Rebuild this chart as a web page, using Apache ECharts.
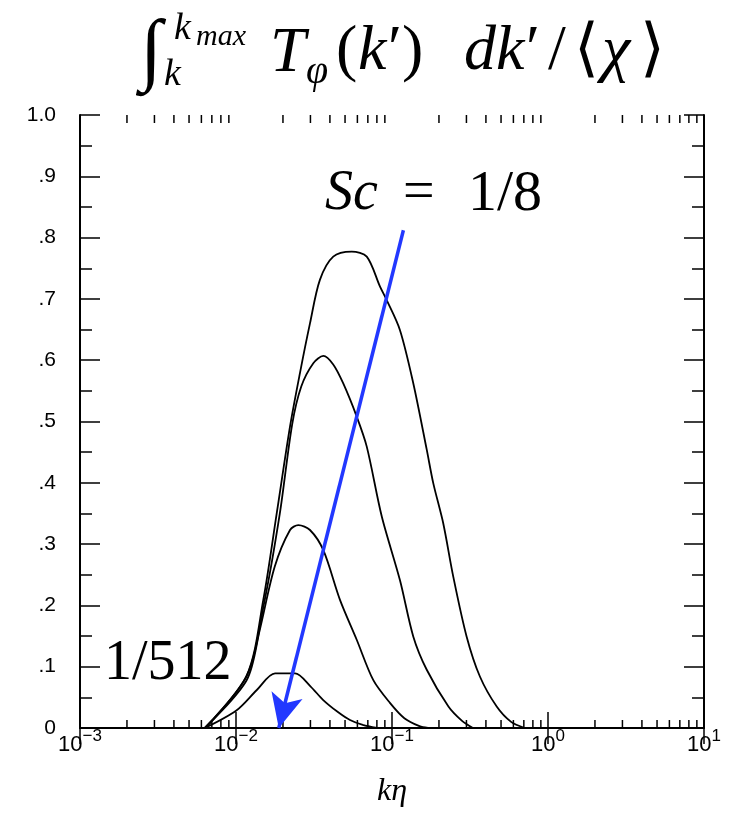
<!DOCTYPE html>
<html>
<head>
<meta charset="utf-8">
<script src="https://cdn.jsdelivr.net/npm/echarts@6/dist/echarts.min.js"></script>
<style>
  html, body { margin: 0; padding: 0; background: #fff; }
  #chart { width: 729px; height: 818px; }
</style>
</head>
<body>
<div id="chart"></div>
<script>
// curves, [k eta, integral / <chi>]
const sc8 = [[0.00632, 0], [0.01172, 0.086], [0.01496, 0.209], [0.01824, 0.35], [0.0222, 0.492],
  [0.0257, 0.579], [0.0298, 0.66], [0.0345, 0.731], [0.042, 0.769], [0.0552, 0.777], [0.0689, 0.769],
  [0.0838, 0.72], [0.0925, 0.698], [0.1125, 0.649], [0.137, 0.562], [0.167, 0.454], [0.184, 0.399],
  [0.213, 0.334], [0.247, 0.247], [0.301, 0.149], [0.366, 0.084], [0.469, 0.035], [0.58, 0.01], [0.71, 0]];
const sc32 = [[0.00632, 0], [0.01172, 0.085], [0.0152, 0.206], [0.0191, 0.35], [0.0229, 0.495],
  [0.0262, 0.557], [0.0313, 0.595], [0.0363, 0.607], [0.042, 0.593], [0.0487, 0.562], [0.0594, 0.508],
  [0.0689, 0.459], [0.086, 0.345], [0.1125, 0.241], [0.137, 0.149], [0.167, 0.095], [0.23, 0.035],
  [0.28, 0.012], [0.33, 0]];
const sc128 = [[0.00632, 0], [0.0117, 0.078], [0.0142, 0.16], [0.0177, 0.263], [0.0222, 0.323],
  [0.0251, 0.331], [0.0298, 0.323], [0.0363, 0.29], [0.0464, 0.209], [0.0594, 0.144], [0.0759, 0.078],
  [0.097, 0.041], [0.12, 0.016], [0.15, 0.003], [0.17, 0]];
const sc512 = [[0.00632, 0], [0.0101, 0.029], [0.0136, 0.062], [0.0178, 0.089], [0.0239, 0.089],
  [0.03, 0.068], [0.0361, 0.046], [0.045, 0.026], [0.0538, 0.013], [0.065, 0.005], [0.08, 0]];

// blue arrow, from top to tip
const arrowFrom = [0.1183, 0.812];
const arrowTo = [0.0188, 0.0];

// x minor ticks 2..9 per decade
const xMinorTicks = [];
[0.001, 0.01, 0.1, 1].forEach(d => {
  for (let m = 2; m <= 9; m++) xMinorTicks.push(+(d * m).toPrecision(3));
});

const chart = echarts.init(document.getElementById('chart'));

const axisLine = { show: true, lineStyle: { color: '#000', width: 2 } };
const sansFont = 'Liberation Sans';
const serif = 'Liberation Serif';

function curve(name, data) {
  return {
    name: name,
    type: 'line',
    data: data,
    showSymbol: false,
    smooth: 0.3,
    lineStyle: { color: '#000', width: 1.8 },
    z: 3
  };
}

function txt(left, top, text, font) {
  return { type: 'text', left: left, top: top, style: { text: text, font: font, fill: '#000' } };
}

const it = s => 'italic ' + s + 'px "Liberation Serif"';
const rm = s => s + 'px "Liberation Serif"';

chart.setOption({
  animation: false,
  backgroundColor: '#fff',
  grid: { left: 80, right: 25, top: 115, bottom: 90 },
  xAxis: [{
    type: 'log',
    logBase: 10,
    min: 0.001,
    max: 10,
    splitNumber: 4,
    axisLine: axisLine,
    axisTick: { inside: true, length: 16, lineStyle: { color: '#000', width: 1.5 } },
    splitLine: { show: false },
    axisLabel: {
      margin: 0,
      formatter: v => '{b|10}{e|' + Math.round(Math.log10(v)).toString().replace('-', '\u2212') + '}',
      rich: {
        b: { fontFamily: sansFont, fontSize: 22, color: '#000', lineHeight: 28, verticalAlign: 'bottom' },
        e: { fontFamily: sansFont, fontSize: 17, color: '#000', lineHeight: 17, verticalAlign: 'top' }
      }
    },
    name: 'k\u03b7',
    nameLocation: 'middle',
    nameGap: 48,
    nameTextStyle: { fontFamily: serif, fontStyle: 'italic', fontSize: 32, color: '#000' }
  }, {
    type: 'log',
    logBase: 10,
    min: 0.001,
    max: 10,
    splitNumber: 4,
    position: 'top',
    axisLine: axisLine,
    axisTick: { inside: true, length: 16, lineStyle: { color: '#000', width: 1.5 } },
    axisLabel: { show: false },
    splitLine: { show: false }
  }],
  yAxis: [{
    type: 'value',
    min: 0,
    max: 1,
    interval: 0.1,
    axisLine: axisLine,
    axisTick: { inside: true, length: 20, lineStyle: { color: '#000', width: 1.5 } },
    minorTick: { show: true, splitNumber: 2, length: 12, lineStyle: { color: '#000', width: 1.5 } },
    splitLine: { show: false },
    axisLabel: {
      margin: 24,
      fontFamily: sansFont,
      fontSize: 21,
      color: '#000',
      formatter: v => v === 1 ? '1.0' : (v === 0 ? '0' : '.' + Math.round(v * 10))
    }
  }, {
    type: 'value',
    min: 0,
    max: 1,
    interval: 0.1,
    position: 'right',
    axisLine: axisLine,
    axisTick: { inside: true, length: 20, lineStyle: { color: '#000', width: 1.5 } },
    minorTick: { show: true, splitNumber: 2, length: 12, lineStyle: { color: '#000', width: 1.5 } },
    splitLine: { show: false },
    axisLabel: { show: false }
  }],
  series: [
    curve('1/8', sc8),
    curve('1/32', sc32),
    curve('1/128', sc128),
    curve('1/512', sc512),
    {
      // minor ticks of the log axis, top and bottom
      type: 'custom',
      data: xMinorTicks,
      encode: { x: 0 },
      silent: true,
      renderItem: (params, api) => {
        const v = api.value(0);
        const b = api.coord([v, 0]);
        const t = api.coord([v, 1]);
        const st = { stroke: '#000', lineWidth: 1.5 };
        return {
          type: 'group',
          children: [
            { type: 'line', shape: { x1: b[0], y1: b[1], x2: b[0], y2: b[1] - 8 }, style: st },
            { type: 'line', shape: { x1: t[0], y1: t[1], x2: t[0], y2: t[1] + 8 }, style: st }
          ]
        };
      },
      z: 2
    },
    {
      type: 'line',
      data: [],
      markLine: {
        silent: true,
        symbol: ['none', 'arrow'],
        symbolSize: [24, 34],
        label: { show: false },
        lineStyle: { color: '#2238ff', width: 3.5, type: 'solid' },
        data: [[{ coord: arrowFrom }, { coord: arrowTo }]]
      },
      z: 4
    }
  ],
  graphic: [
    // title
    txt(140, 14, '\u222b', it(80)),
    txt(174, 10, 'k', it(38)),
    txt(196, 22, 'max', it(30)),
    txt(164, 56, 'k', it(38)),
    txt(270, 22, 'T', it(64)),
    txt(306, 52, '\u03c6', it(40)),
    txt(336, 20, '(', rm(64)),
    txt(358, 20, 'k', it(64)),
    txt(388, 20, '\u2032)', rm(64)),
    txt(464, 20, 'dk', it(64)),
    txt(526, 20, '\u2032', rm(64)),
    txt(548, 20, '/', rm(64)),
    txt(574, 20, '\u27e8', rm(64)),
    txt(602, 20, '\u03c7', it(64)),
    txt(640, 20, '\u27e9', rm(64)),
    // annotations
    txt(325, 166, 'Sc', it(56)),
    txt(403, 166, '=', rm(56)),
    txt(468, 166, '1/8', rm(58)),
    txt(104, 636, '1/512', rm(56))
  ]
});
</script>
</body>
</html>
